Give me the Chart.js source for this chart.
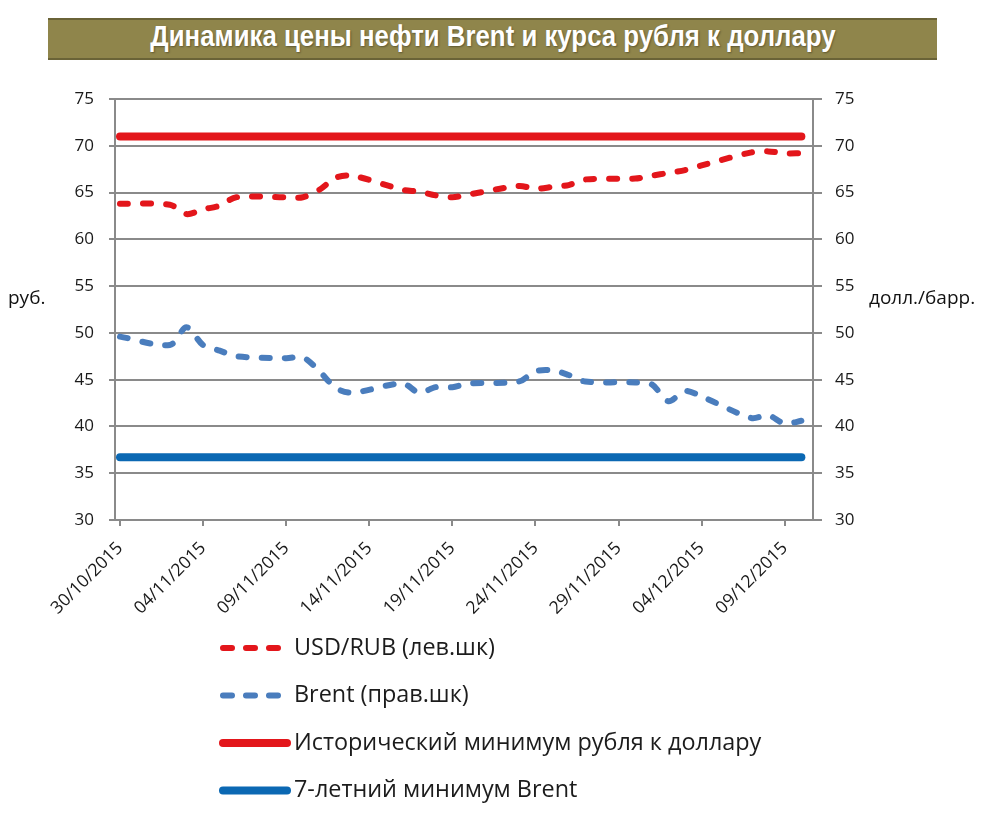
<!DOCTYPE html>
<html>
<head>
<meta charset="utf-8">
<script src="https://cdn.jsdelivr.net/npm/chart.js@4.4.1/dist/chart.umd.min.js"></script>
<style>
  html, body { margin: 0; padding: 0; background: #fff; }
  #wrap { position: relative; width: 988px; height: 820px; overflow: hidden; }
  #chart { position: absolute; left: 0; top: 0; }
  .banner {
    position: absolute; left: 48px; top: 18px; width: 889px; height: 38px;
    background: #8f854b; border-top: 2px solid #6a6337; border-bottom: 2px solid #6a6337;
    text-align: center; line-height: 42px; overflow: hidden;
  }
  .banner span {
    display: inline-block; transform: scaleX(0.89); white-space: nowrap;
    color: #fff; font: bold 29px "Liberation Sans", sans-serif;
    text-shadow: 1px 1px 2px rgba(0,0,0,0.35);
  }
  .side { position: absolute; font: 19px "Open Sans", sans-serif; color: #111; }
</style>
</head>
<body>
<div id="wrap">
  <canvas id="chart" width="988" height="820"></canvas>
  <div class="banner"><span>Динамика цены нефти Brent и курса рубля к доллару</span></div>
  <div class="side" style="left:8px; top:284px">руб.</div>
  <div class="side" style="left:869px; top:284px">долл./барр.</div>
</div>
<script>
// trading days shown on the chart
const dates = [
  "30/10/2015", "02/11/2015", "03/11/2015", "04/11/2015", "05/11/2015", "06/11/2015",
  "09/11/2015", "10/11/2015", "11/11/2015", "12/11/2015", "13/11/2015",
  "16/11/2015", "17/11/2015", "18/11/2015", "19/11/2015", "20/11/2015",
  "23/11/2015", "24/11/2015", "25/11/2015", "26/11/2015", "27/11/2015",
  "30/11/2015", "01/12/2015", "02/12/2015", "03/12/2015", "04/12/2015",
  "07/12/2015", "08/12/2015", "09/12/2015", "10/12/2015"
];
const usdRub = [
  63.8, 63.7, 62.7, 63.2, 63.6, 64.5,
  64.5, 64.5, 65.3, 66.6, 66.8,
  65.3, 65.1, 64.7, 64.5, 64.8,
  65.7, 65.4, 65.6, 65.8, 66.4,
  66.5, 66.8, 67.1, 67.4, 67.9,
  69.3, 69.4, 69.2, 69.2
];
const brent = [
  49.6, 48.7, 50.6, 48.7, 48.1, 47.5,
  47.3, 47.4, 45.9, 44.1, 43.6,
  44.6, 43.6, 44.2, 44.2, 44.6,
  44.8, 45.9, 46.0, 45.5, 44.8,
  44.7, 44.5, 42.7, 43.8, 43.2,
  40.9, 41.2, 40.3, 40.6
];
const rubRecord = 71.0;   // исторический минимум рубля
const brentLow = 36.7;    // 7-летний минимум Brent

const tickLabels = [
  "30/10/2015", "04/11/2015", "09/11/2015", "14/11/2015", "19/11/2015",
  "24/11/2015", "29/11/2015", "04/12/2015", "09/12/2015"
];
const yTicks = [30, 35, 40, 45, 50, 55, 60, 65, 70, 75];

const seriesLabels = [
  "USD/RUB (лев.шк)",
  "Brent (прав.шк)",
  "Исторический минимум рубля к доллару",
  "7-летний минимум Brent"
];

/* day offset from the first date */
function dayNum(s) {
  const p = s.split("/");
  return Date.UTC(+p[2], +p[1] - 1, +p[0]) / 86400000;
}
const day0 = dayNum(dates[0]);
const days = dates.map(d => dayNum(d) - day0);
const tickDays = tickLabels.map(d => dayNum(d) - day0);

const pts = vals => vals.map((v, i) => ({ x: days[i], y: v }));
const flat = v => [{ x: days[0], y: v }, { x: days[days.length - 1], y: v }];

/* legend drawn as a vertical list under the plot */
const listLegend = {
  id: "listLegend",
  afterDraw(chart) {
    const ctx = chart.ctx;
    chart.data.datasets.forEach((ds, i) => {
      const y = 648 + i * 47.5;
      ctx.save();
      ctx.strokeStyle = ds.borderColor;
      ctx.lineWidth = ds.borderWidth;
      ctx.lineCap = "round";
      ctx.setLineDash(ds.borderDash ? [9, 14] : []);
      ctx.beginPath();
      ctx.moveTo(223, y);
      ctx.lineTo(ds.borderDash ? 282 : 287, y);
      ctx.stroke();
      ctx.setLineDash([]);
      ctx.fillStyle = "#1c1c1c";
      ctx.font = '23.4px "Open Sans", sans-serif';
      ctx.textBaseline = "middle";
      ctx.fillText(ds.label, 294, y);
      ctx.restore();
    });
  }
};

const gridColor = "#8a8a8a";
const tickFont = { family: "Open Sans", size: 17 };

new Chart(document.getElementById("chart"), {
  type: "line",
  data: {
    datasets: [
      {
        label: seriesLabels[0], data: pts(usdRub), yAxisID: "y",
        borderColor: "#e3161b", borderWidth: 6, borderDash: [8, 15],
        borderCapStyle: "round", tension: 0.3, pointRadius: 0
      },
      {
        label: seriesLabels[1], data: pts(brent), yAxisID: "y1",
        borderColor: "#4a7dbd", borderWidth: 6, borderDash: [8, 15],
        borderCapStyle: "round", tension: 0.3, pointRadius: 0
      },
      {
        label: seriesLabels[2], data: flat(rubRecord), yAxisID: "y",
        borderColor: "#e3161b", borderWidth: 8, borderCapStyle: "round", pointRadius: 0
      },
      {
        label: seriesLabels[3], data: flat(brentLow), yAxisID: "y1",
        borderColor: "#0b68b3", borderWidth: 8, borderCapStyle: "round", pointRadius: 0
      }
    ]
  },
  options: {
    responsive: false,
    animation: false,
    devicePixelRatio: 1,
    layout: { padding: { top: 99, left: 0, right: 0, bottom: 0 } },
    plugins: { legend: { display: false }, tooltip: { enabled: false } },
    scales: {
      x: {
        type: "linear", min: -0.3, max: 41.7,
        afterFit: s => { s.height = 300; },
        afterBuildTicks: s => { s.ticks = tickDays.map(v => ({ value: v })); },
        grid: { drawOnChartArea: false, color: gridColor, lineWidth: 2, tickLength: 6 },
        border: { color: gridColor, width: 2 },
        ticks: {
          autoSkip: false, minRotation: 45, maxRotation: 45, padding: 12,
          color: "#1a1a1a", font: { family: "Open Sans", size: 17.5 },
          callback: v => tickLabels[tickDays.indexOf(v)]
        }
      },
      y: {
        position: "left", min: 30, max: 75,
        afterFit: s => { s.width = 115; },
        afterBuildTicks: s => { s.ticks = yTicks.map(v => ({ value: v })); },
        grid: { color: gridColor, lineWidth: 2, tickLength: 6 },
        border: { color: gridColor, width: 2 },
        ticks: { padding: 15, color: "#1a1a1a", font: tickFont }
      },
      y1: {
        position: "right", min: 30, max: 75,
        afterFit: s => { s.width = 175; },
        afterBuildTicks: s => { s.ticks = yTicks.map(v => ({ value: v })); },
        grid: { drawOnChartArea: false, color: gridColor, lineWidth: 2, tickLength: 9 },
        border: { color: gridColor, width: 2 },
        ticks: { padding: 13, color: "#1a1a1a", font: tickFont }
      }
    }
  },
  plugins: [listLegend]
});
</script>
</body>
</html>
